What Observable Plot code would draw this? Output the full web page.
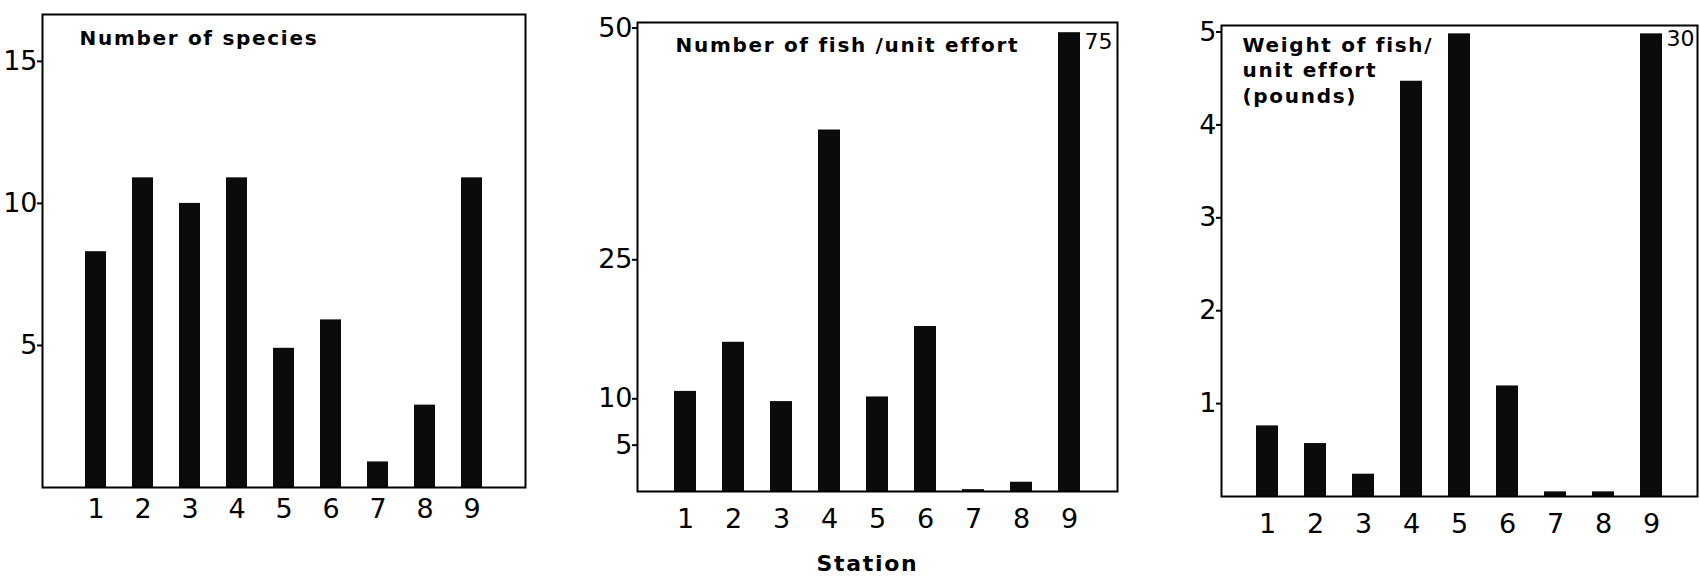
<!DOCTYPE html>
<html>
<head>
<meta charset="utf-8">
<script src="https://cdn.jsdelivr.net/npm/d3@7"></script>
<script src="https://cdn.jsdelivr.net/npm/@observablehq/plot@0.6"></script>
<style>
  html, body { margin: 0; padding: 0; background: white; }
  #fig { position: relative; width: 1700px; height: 580px; overflow: hidden; background: white; }
  #fig svg { position: absolute; top: 0; }
</style>
</head>
<body>
<div id="fig"></div>
<script>
// ---- data ----
const stations = ["1", "2", "3", "4", "5", "6", "7", "8", "9"];
const speciesCount = [8.3, 10.9, 10, 10.9, 4.9, 5.9, 0.9, 2.9, 10.9];
const fishNumber = [10.8, 16.1, 9.7, 39.0, 10.2, 17.8, 0.2, 1.0, 75];
const fishWeight = [0.76, 0.57, 0.24, 4.47, 5.0, 1.19, 0.05, 0.05, 30];
const speciesTicks = [5, 10, 15];
const numberTicks = [5, 10, 25, 50];
const weightTicks = [1, 2, 3, 4, 5];
const numberBreak = 49.5;   // where the off-scale bar is cut
const weightBreak = 4.98;
const titles = ["Number of species", "Number of fish /unit effort", "Weight of fish/\nunit effort\n(pounds)"];
const xTitle = "Station";

// ---- layout ----
const panels = [
  {values: speciesCount, ticks: speciesTicks, yMax: 16.65, cap: null, title: titles[0],
   left: 0, width: 540, height: 540, marginLeft: 42, marginRight: 15, marginTop: 14, marginBottom: 53,
   titleDx: 37, titleDy: 12, tickPadding: 11, padOuter: 0.815},
  {values: fishNumber, ticks: numberTicks, yMax: 50.6, cap: numberBreak, title: titles[1],
   left: 577, width: 550, height: 580, marginLeft: 60, marginRight: 10, marginTop: 22, marginBottom: 89,
   titleDx: 38, titleDy: 11, tickPadding: 17, xTitle: xTitle, labelDy: 1, padOuter: 0.775},
  {values: fishWeight, ticks: weightTicks, yMax: 5.07, cap: weightBreak, title: titles[2],
   left: 1164, width: 536, height: 550, marginLeft: 57, marginRight: 3, marginTop: 25, marginBottom: 54,
   titleDx: 21, titleDy: 8, tickPadding: 17, labelDy: -3, padOuter: 0.69}
];

const fig = document.getElementById("fig");

for (const p of panels) {
  const rows = stations.map((s, i) => ({station: s, value: p.values[i]}));
  const shown = d => (p.cap != null ? Math.min(d.value, p.cap) : d.value);
  const marks = [
    Plot.barY(rows, {x: "station", y: shown, fill: "#0b0b0b"}),
    Plot.frame({stroke: "black", strokeWidth: 2}),
    Plot.axisY({ticks: p.ticks, tickFormat: d => String(d), tickSize: 5, tickPadding: 0, strokeWidth: 2, fontSize: 27, label: null}),
    Plot.axisX({tickSize: 0, tickPadding: p.tickPadding, fontSize: 27, label: null}),
    Plot.text([p.title], {
      frameAnchor: "top-left", dx: p.titleDx, dy: p.titleDy, textAnchor: "start", lineAnchor: "top",
      lineHeight: 1.28, fontSize: 20, fontWeight: "bold", fill: "black"
    })
  ];
  if (p.cap != null) {
    marks.push(Plot.text(rows.filter(d => d.value > p.yMax), {
      x: "station", y: shown, text: d => String(d.value), dx: 15, dy: p.labelDy,
      textAnchor: "start", lineAnchor: "top", fontSize: 22, fill: "black"
    }));
  }
  if (p.xTitle) {
    marks.push(Plot.text([p.xTitle], {
      frameAnchor: "bottom", dx: -10, dy: 64, lineAnchor: "top",
      fontSize: 22, fontWeight: "bold", fill: "black"
    }));
  }
  const svg = Plot.plot({
    width: p.width, height: p.height,
    marginLeft: p.marginLeft, marginRight: p.marginRight, marginTop: p.marginTop, marginBottom: p.marginBottom,
    style: {background: "transparent", fontFamily: "DejaVu Sans", fontSize: "27px", color: "black", overflow: "visible", maxWidth: "none"},
    x: {type: "band", domain: stations, paddingInner: 0.55, paddingOuter: p.padOuter, label: null, axis: null},
    y: {domain: [0, p.yMax], label: null, axis: null},
    marks
  });
  svg.style.left = p.left + "px";
  d3.select(svg).selectAll('[font-weight="bold"] text, text[font-weight="bold"]').style("letter-spacing", "1.7px");
  fig.appendChild(svg);
}
</script>
</body>
</html>
